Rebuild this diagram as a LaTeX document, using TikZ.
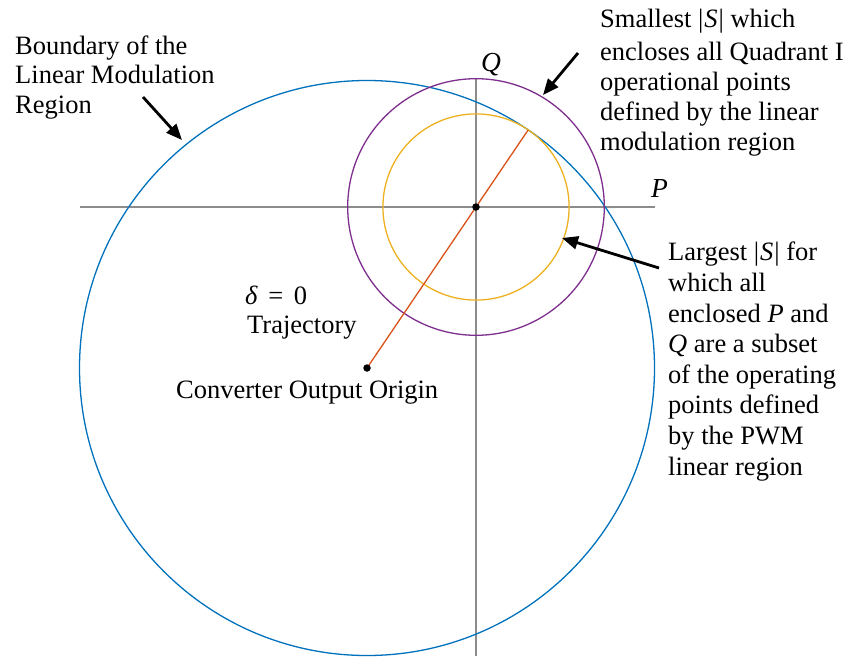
\documentclass[tikz,border=0pt]{standalone}
\usepackage{fontspec}
\setmainfont{Liberation Serif}
\usetikzlibrary{arrows.meta,calc}
\definecolor{mblue}{RGB}{0,114,189}
\definecolor{morange}{RGB}{217,83,25}
\definecolor{myellow}{RGB}{237,177,32}
\definecolor{mpurple}{RGB}{126,47,142}
\definecolor{axisgray}{RGB}{140,140,140}
\tikzset{
  axisline/.style={draw=axisgray,line width=1.5pt},
  curve/.style={line width=1.3pt},
  dotnode/.style={circle,fill=black,inner sep=0pt,minimum size=7.5pt},
  lbl/.style={font={\fontsize{26.5}{30}\selectfont},inner sep=0pt,align=left,anchor=base west},
  pointer/.style={draw=black,line width=2.8pt,-{Triangle[length=16pt,width=13pt]}},
}
\begin{document}
\begin{tikzpicture}[x=1pt,y=-1pt]
\useasboundingbox (0,0) rectangle (851,656);
% axes
\coordinate (hl) at (80,207);
\coordinate (hr) at (655,207);
\coordinate (vt) at (476,79);
\coordinate (vb) at (476,656);
\draw[axisline] (hl) -- (hr);
\draw[axisline] (vt) -- (vb);
% points
\coordinate (orig) at (367,368);
\coordinate (ctr) at (476,207);
% circles
\draw[curve,mblue] (orig) circle[radius=287.5pt];
\draw[curve,mpurple] (ctr) circle[radius=128.3pt];
\draw[curve,myellow] (ctr) circle[radius=93.1pt];
% trajectory
\coordinate (touch) at ($(orig)!287.5pt!(ctr)$);
\draw[curve,morange] (orig) -- (touch);
\node[dotnode] (origdot) at (orig) {};
\node[dotnode] (ctrdot) at (ctr) {};
% labels
\node[lbl,font={\fontsize{27.5}{30}\selectfont\itshape}] (Q) at (481,71.7) {Q};
\node[lbl,font={\fontsize{27.5}{30}\selectfont\itshape}] (P) at (651,197.3) {P};
\node[lbl,font={\fontsize{26.5}{29.5}\selectfont}] (boundary) at (15,113.3) {Boundary of the\\Linear Modulation\\Region};
\node[lbl] (smallest) at (600,150.7) {Smallest |\kern1pt\textit{S}\kern1pt| which\\[3.3pt]encloses all Quadrant I\\operational points\\defined by the linear\\modulation region};
\node[lbl,font={\fontsize{26.5}{30.6}\selectfont}] (largest) at (668,475) {Largest |\kern1pt\textit{S}\kern1pt| for\\which all\\enclosed \textit{P} and\\\textit{Q} are a subset\\of the operating\\points defined\\by the PWM\\linear region};
\node[lbl,font={\fontsize{26.5}{28.7}\selectfont}] (delta) at (245,333) {\textit{δ}\hspace{0.4em}=\hspace{0.4em}0\\\hspace{2pt}Trajectory};
\node[lbl] (conv) at (176,398) {Converter Output Origin};
% pointers
\coordinate (a1s) at (143,97);
\coordinate (a1e) at (182,140);
\coordinate (a2s) at (578,53);
\coordinate (a2e) at (543,95);
\coordinate (a3s) at (659,268);
\coordinate (a3e) at (562,238);
\draw[pointer] (a1s) -- (a1e);
\draw[pointer] (a2s) -- (a2e);
\draw[pointer] (a3s) -- (a3e);
\end{tikzpicture}
\end{document}
